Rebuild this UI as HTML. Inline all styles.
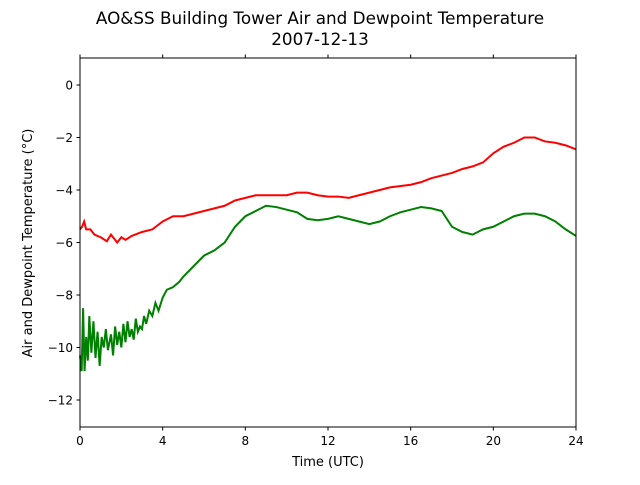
<!DOCTYPE html>
<html><head><meta charset="utf-8"><style>
body{margin:0;background:#fff;font-family:"Liberation Sans","DejaVu Sans",sans-serif}
text{font-family:"DejaVu Sans","Liberation Sans",sans-serif;fill:#000}
</style></head><body>
<svg id="chart" width="640" height="480">
<text x="320" y="24" font-size="16.8" text-anchor="middle">AO&amp;SS Building Tower Air and Dewpoint Temperature</text>
<text x="320" y="45" font-size="16.8" text-anchor="middle">2007-12-13</text>
<g id="plot"></g>
<rect x="80" y="58" width="496" height="369" fill="none" stroke="#000" stroke-width="1"/>
<text x="328" y="466" font-size="13" text-anchor="middle">Time (UTC)</text>
<text transform="translate(32,243) rotate(-90)" font-size="13" text-anchor="middle">Air and Dewpoint Temperature (°C)</text>
</svg>
<script>
const xTicks=[0,4,8,12,16,20,24];
const yTicks=[0,-2,-4,-6,-8,-10,-12];
const airTimes=[0,0.1,0.2,0.3,0.5,0.7,1,1.3,1.5,1.8,2,2.2,2.5,3,3.5,4,4.5,5,5.5,6,6.5,7,7.5,8,8.5,9,9.5,10,10.5,11,11.5,12,12.5,13,13.5,14,14.5,15,16,16.5,17,17.5,18,18.5,19,19.5,20,20.5,21,21.5,22,22.5,23,23.5,24];
const airTemps=[-5.5,-5.4,-5.2,-5.5,-5.5,-5.7,-5.8,-5.95,-5.7,-6.0,-5.8,-5.9,-5.75,-5.6,-5.5,-5.2,-5.0,-5.0,-4.9,-4.8,-4.7,-4.6,-4.4,-4.3,-4.2,-4.2,-4.2,-4.2,-4.1,-4.1,-4.2,-4.25,-4.25,-4.3,-4.2,-4.1,-4.0,-3.9,-3.8,-3.7,-3.55,-3.45,-3.35,-3.2,-3.1,-2.95,-2.6,-2.35,-2.2,-2.0,-2.0,-2.15,-2.2,-2.3,-2.45];
const dewTimes=[0,0.08,0.15,0.22,0.3,0.38,0.45,0.55,0.65,0.75,0.85,0.95,1.05,1.15,1.25,1.35,1.5,1.6,1.7,1.8,1.9,2,2.1,2.2,2.3,2.4,2.5,2.6,2.7,2.8,2.9,3,3.1,3.2,3.35,3.5,3.65,3.8,4,4.2,4.5,4.8,5,5.5,6,6.5,7,7.5,8,8.5,9,9.5,10,10.5,11,11.5,12,12.5,13,13.5,14,14.5,15,15.5,16,16.5,17,17.5,18,18.5,19,19.5,20,20.5,21,21.5,22,22.5,23,23.5,24];
const dewTemps=[-10.3,-10.9,-8.5,-10.9,-9.6,-10.5,-8.8,-10.2,-9.0,-10.4,-9.4,-10.7,-9.6,-10.0,-9.3,-10.1,-9.5,-10.3,-9.2,-9.9,-9.4,-10.0,-9.1,-9.8,-9.0,-9.6,-9.3,-9.7,-8.9,-9.4,-9.2,-9.3,-8.8,-9.1,-8.6,-8.8,-8.3,-8.6,-8.1,-7.8,-7.7,-7.5,-7.3,-6.9,-6.5,-6.3,-6.0,-5.4,-5.0,-4.8,-4.6,-4.65,-4.75,-4.85,-5.1,-5.15,-5.1,-5.0,-5.1,-5.2,-5.3,-5.2,-5.0,-4.85,-4.75,-4.65,-4.7,-4.8,-5.4,-5.6,-5.7,-5.5,-5.4,-5.2,-5.0,-4.9,-4.9,-5.0,-5.2,-5.5,-5.75];
const X=t=>80+t*(496/24);
const Y=v=>85-v*26.25;
const NS="http://www.w3.org/2000/svg";
const g=document.getElementById('plot');
function mk(tag,attrs){const e=document.createElementNS(NS,tag);for(const k in attrs)e.setAttribute(k,attrs[k]);g.appendChild(e);return e;}
xTicks.forEach(t=>{
 const l=mk('line',{x1:X(t),x2:X(t),y1:427,y2:430.5,stroke:'#000'});
 
 
 const l2=mk('line',{x1:X(t),x2:X(t),y1:58,y2:54.5,stroke:'#000'});
 
 
 const tx=mk('text',{x:X(t),y:445,'font-size':'12','text-anchor':'middle'});tx.textContent=t;
 
 
});
yTicks.forEach(v=>{
 const l=mk('line',{x1:80,x2:76.5,y1:Y(v),y2:Y(v),stroke:'#000'});
 
 
 const tx=mk('text',{x:73,y:Y(v)+4.5,'font-size':'12','text-anchor':'end'});tx.textContent=v===0?'0':'\u2212'+Math.abs(v);
 
 
});
const air=mk('polyline',{points:airTimes.map((t,i)=>X(t)+','+Y(airTemps[i])).join(' '),fill:'none',stroke:'#ff0000','stroke-width':2});


const dew=mk('polyline',{points:dewTimes.map((t,i)=>X(t)+','+Y(dewTemps[i])).join(' '),fill:'none',stroke:'#008000','stroke-width':2});


</script>
</body></html>
